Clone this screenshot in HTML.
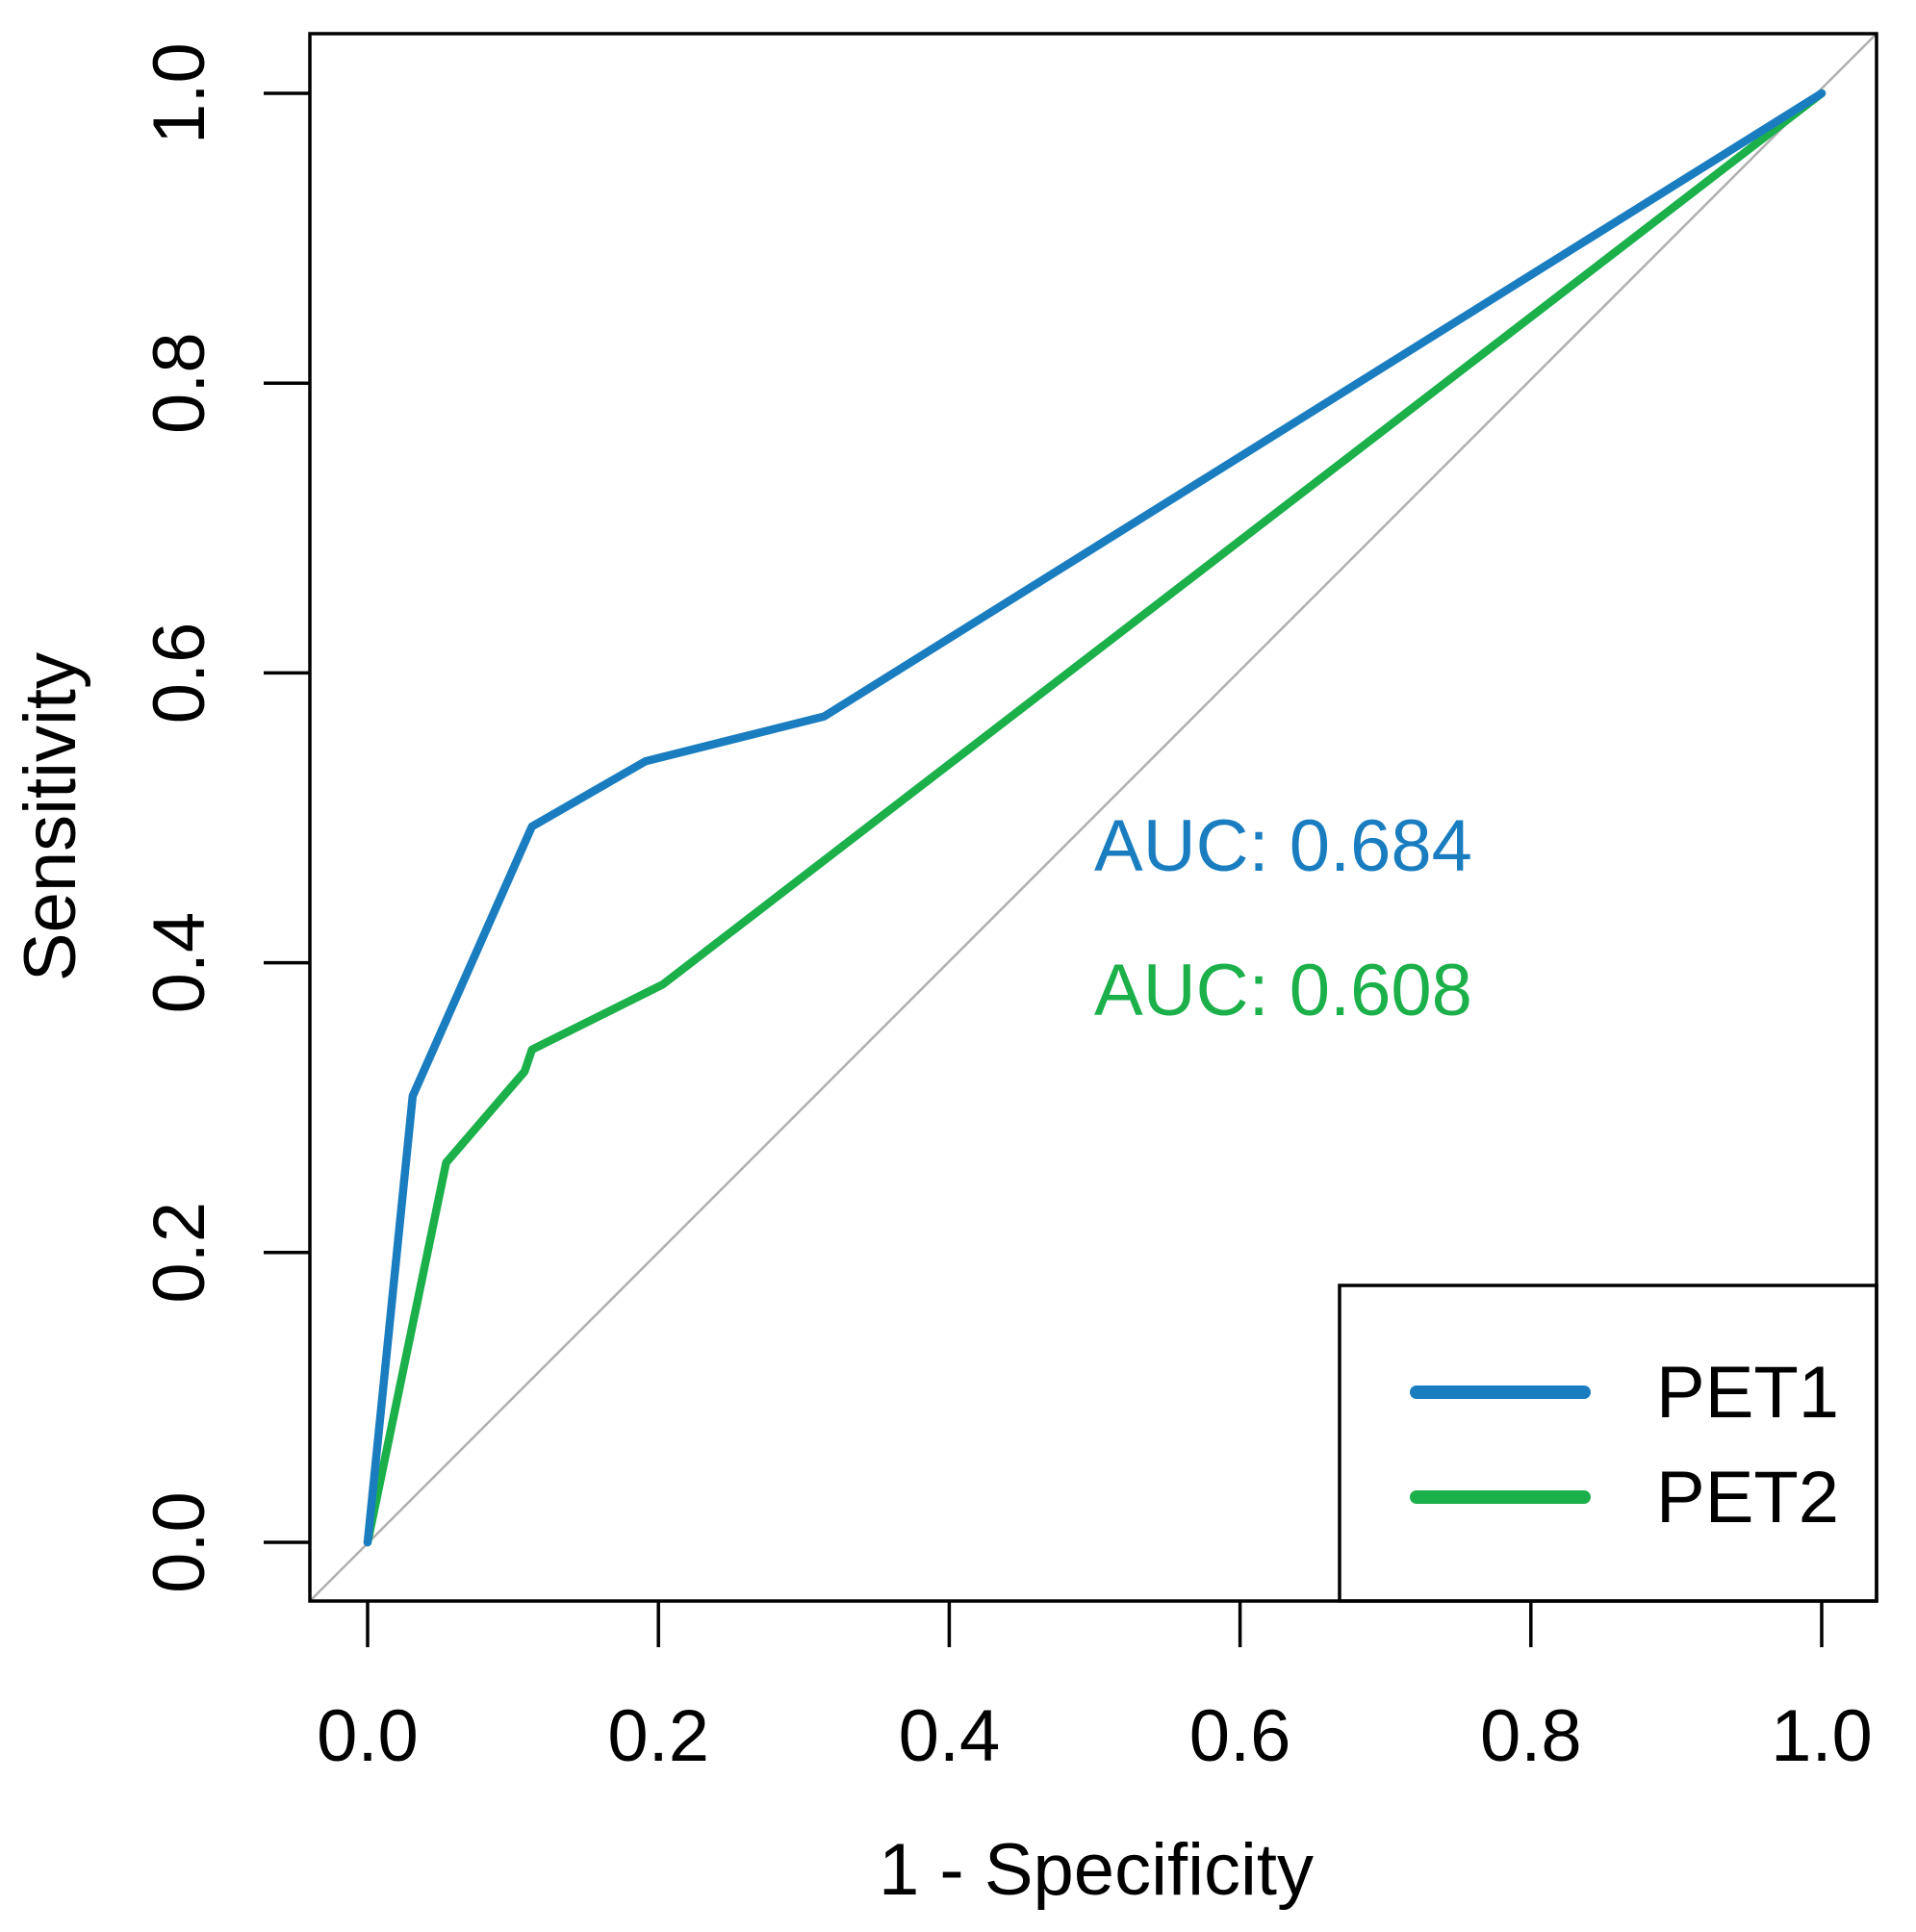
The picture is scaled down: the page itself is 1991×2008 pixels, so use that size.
<!DOCTYPE html>
<html><head><meta charset="utf-8"><style>
html,body{margin:0;padding:0;background:#fff;}
svg{display:block;font-family:"Liberation Sans",sans-serif;}
</style></head><body>
<svg id="chart" width="1991" height="2008" viewBox="0 0 1991 2008" xmlns="http://www.w3.org/2000/svg">
<g id="plot"></g>
</svg>
<script>
const xTicks=[0,0.2,0.4,0.6,0.8,1.0];
const yTicks=[0,0.2,0.4,0.6,0.8,1.0];
const tickLabels=["0.0","0.2","0.4","0.6","0.8","1.0"];
const pet1X=[0,0.031,0.113,0.191,0.314,1];
const pet1Y=[0,0.308,0.494,0.539,0.570,1];
const pet2X=[0,0.054,0.108,0.113,0.203,1];
const pet2Y=[0,0.262,0.325,0.340,0.385,1];
const seriesNames=["PET1","PET2"];
const aucLabels=["AUC: 0.684","AUC: 0.608"];
const colors=["#1a7dc0","#1bb04a"];

const NS="http://www.w3.org/2000/svg";
const X0=382,X1=1893,Y0=1603,Y1=97;
function sx(v){return X0+(X1-X0)*v;}
function sy(v){return Y0+(Y1-Y0)*v;}
const g=document.getElementById('plot');
function mk(tag,attrs,parent){const e=document.createElementNS(NS,tag);for(const k in attrs)e.setAttribute(k,attrs[k]);(parent||g).appendChild(e);return e;}
const L=322,R=1950,T=35,B=1664;
const FS=76;

const diag=mk('line',{x1:L,y1:B,x2:R,y2:T,stroke:'#b0b0b0','stroke-width':2.5});



function drawSeries(xs,ys,color,name){
  const pts=xs.map((x,i)=>sx(x)+','+sy(ys[i])).join(' ');
  const p=mk('polyline',{points:pts,fill:'none',stroke:color,'stroke-width':8.5,'stroke-linejoin':'round','stroke-linecap':'round'});
  
  
}
drawSeries(pet2X,pet2Y,colors[1],'pet2-roc-line');
drawSeries(pet1X,pet1Y,colors[0],'pet1-roc-line');

const lg=mk('rect',{x:1392,y:1336,width:R-1392,height:B-1336,fill:'#fff',stroke:'#000','stroke-width':3.5});


seriesNames.forEach((n,i)=>{
  const yy=1447+i*109;
  const ln=mk('line',{x1:1472,y1:yy,x2:1646,y2:yy,stroke:colors[i],'stroke-width':14,'stroke-linecap':'round'});
  
  
  const t=mk('text',{x:1721,y:yy+26,'font-size':FS,fill:'#000'});
  t.textContent=n;
  
  
});

const box=mk('rect',{x:L,y:T,width:R-L,height:B-T,fill:'none',stroke:'#000','stroke-width':3.5});



xTicks.forEach((v,i)=>{
  const tk=mk('line',{x1:sx(v),y1:B,x2:sx(v),y2:B+48,stroke:'#000','stroke-width':3.5});
  
  
  const t=mk('text',{x:sx(v),y:1830,'font-size':FS,'text-anchor':'middle',fill:'#000'});
  t.textContent=tickLabels[i];
  
  
});
yTicks.forEach((v,i)=>{
  const tk=mk('line',{x1:L,y1:sy(v),x2:L-48,y2:sy(v),stroke:'#000','stroke-width':3.5});
  
  
  const t=mk('text',{x:212,y:sy(v),'font-size':FS,'text-anchor':'middle',fill:'#000',transform:'rotate(-90 212 '+sy(v)+')'});
  t.textContent=tickLabels[i];
  
  
});
const xt=mk('text',{x:1139,y:1969,'font-size':FS,'text-anchor':'middle',fill:'#000'});
xt.textContent='1 - Specificity';


const yt=mk('text',{x:78,y:849,'font-size':FS,'text-anchor':'middle',fill:'#000',transform:'rotate(-90 78 849)'});
yt.textContent='Sensitivity';



aucLabels.forEach((s,i)=>{
  const t=mk('text',{x:1137,y:905+i*150,'font-size':FS,fill:colors[i]});
  t.textContent=s;
  
  
});
</script>
</body></html>
